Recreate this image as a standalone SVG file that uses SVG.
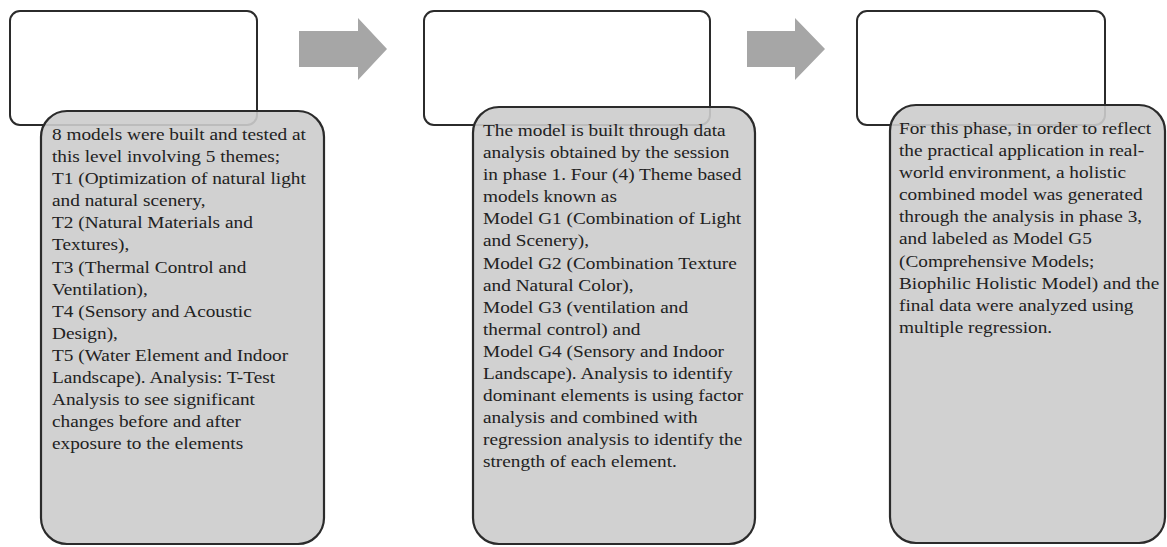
<svg xmlns="http://www.w3.org/2000/svg" width="1167" height="547" viewBox="0 0 1167 547">
  <style>
    .title-box { fill: #ffffff; stroke: #2b2b2b; stroke-width: 2; }
    .body-box { fill: #cccccc; fill-opacity: 0.9; stroke: #2b2b2b; stroke-width: 2.2; }
    .body-text { font-family: "Liberation Serif", "Times New Roman", serif; font-size: 16.5px; fill: #222222; }
    .step-arrow { fill: #a6a6a6; }
  </style>
  <rect width="1167" height="547" fill="#ffffff"/>

  <!-- phase 1 -->
  <g id="phase1">
    <rect class="title-box" x="10" y="11" width="247" height="114" rx="10" ry="10"/>
    <rect class="body-box" x="41" y="111" width="283" height="433" rx="26" ry="26"/>
    <text class="body-text" transform="translate(52 140) scale(1.17 1)">
      <tspan x="0" y="0">8 models were built and tested at</tspan>
      <tspan x="0" dy="22.1">this level involving 5 themes;</tspan>
      <tspan x="0" dy="22.1">T1 (Optimization of natural light</tspan>
      <tspan x="0" dy="22.1">and natural scenery,</tspan>
      <tspan x="0" dy="22.1">T2 (Natural Materials and</tspan>
      <tspan x="0" dy="22.1">Textures),</tspan>
      <tspan x="0" dy="22.1">T3 (Thermal Control and</tspan>
      <tspan x="0" dy="22.1">Ventilation),</tspan>
      <tspan x="0" dy="22.1">T4 (Sensory and Acoustic</tspan>
      <tspan x="0" dy="22.1">Design),</tspan>
      <tspan x="0" dy="22.1">T5 (Water Element and Indoor</tspan>
      <tspan x="0" dy="22.1">Landscape). Analysis: T-Test</tspan>
      <tspan x="0" dy="22.1">Analysis to see significant</tspan>
      <tspan x="0" dy="22.1">changes before and after</tspan>
      <tspan x="0" dy="22.1">exposure to the elements</tspan>
    </text>
  </g>

  <!-- phase 2 -->
  <g id="phase2">
    <rect class="title-box" x="424" y="11" width="286" height="114" rx="10" ry="10"/>
    <rect class="body-box" x="473" y="107" width="282" height="437" rx="26" ry="26"/>
    <text class="body-text" transform="translate(483 136) scale(1.17 1)">
      <tspan x="0" y="0">The model is built through data</tspan>
      <tspan x="0" dy="22.1">analysis obtained by the session</tspan>
      <tspan x="0" dy="22.1">in phase 1. Four (4) Theme based</tspan>
      <tspan x="0" dy="22.1">models known as</tspan>
      <tspan x="0" dy="22.1">Model G1 (Combination of Light</tspan>
      <tspan x="0" dy="22.1">and Scenery),</tspan>
      <tspan x="0" dy="22.1">Model G2 (Combination Texture</tspan>
      <tspan x="0" dy="22.1">and Natural Color),</tspan>
      <tspan x="0" dy="22.1">Model G3 (ventilation and</tspan>
      <tspan x="0" dy="22.1">thermal control) and</tspan>
      <tspan x="0" dy="22.1">Model G4 (Sensory and Indoor</tspan>
      <tspan x="0" dy="22.1">Landscape). Analysis to identify</tspan>
      <tspan x="0" dy="22.1">dominant elements is using factor</tspan>
      <tspan x="0" dy="22.1">analysis and combined with</tspan>
      <tspan x="0" dy="22.1">regression analysis to identify the</tspan>
      <tspan x="0" dy="22.1">strength of each element.</tspan>
    </text>
  </g>

  <!-- phase 3 -->
  <g id="phase3">
    <rect class="title-box" x="857" y="11" width="248" height="114" rx="10" ry="10"/>
    <rect class="body-box" x="890" y="105" width="275" height="438" rx="26" ry="26"/>
    <text class="body-text" transform="translate(899 134) scale(1.17 1)">
      <tspan x="0" y="0">For this phase, in order to reflect</tspan>
      <tspan x="0" dy="22.1">the practical application in real-</tspan>
      <tspan x="0" dy="22.1">world environment, a holistic</tspan>
      <tspan x="0" dy="22.1">combined model was generated</tspan>
      <tspan x="0" dy="22.1">through the analysis in phase 3,</tspan>
      <tspan x="0" dy="22.1">and labeled as Model G5</tspan>
      <tspan x="0" dy="22.1">(Comprehensive Models;</tspan>
      <tspan x="0" dy="22.1">Biophilic Holistic Model) and the</tspan>
      <tspan x="0" dy="22.1">final data were analyzed using</tspan>
      <tspan x="0" dy="22.1">multiple regression.</tspan>
    </text>
  </g>

  <!-- block arrows between phases -->
  <g id="connectors">
    <polygon class="step-arrow" points="299,31 358,31 358,18 387,49 358,80 358,67 299,67"/>
    <polygon class="step-arrow" points="747,31 795,31 795,18 825,49 795,80 795,67 747,67"/>
  </g>
</svg>
